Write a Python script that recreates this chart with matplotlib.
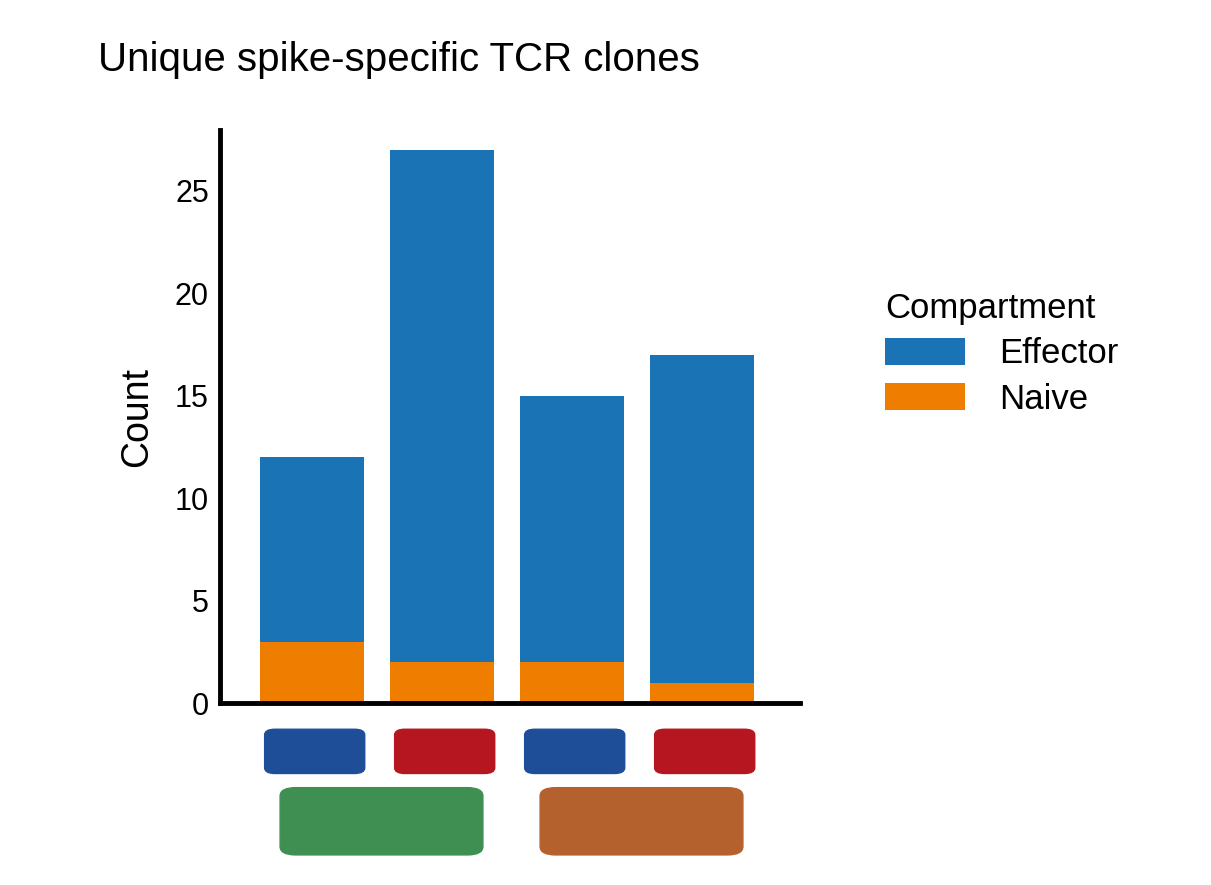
import matplotlib
matplotlib.use("Agg")
import matplotlib.pyplot as plt
from matplotlib.patches import FancyBboxPatch
from matplotlib.transforms import blended_transform_factory

plt.rcParams["font.family"] = "Liberation Sans"

donors = ["D2", "D3", "D2", "D3"]
groups = ["<70", "≥70"]
naive = [3, 2, 2, 1]
effector = [9, 25, 13, 16]
yticks = [0, 5, 10, 15, 20, 25]

blue = "#1a73b4"
orange = "#ee7d00"
donor_colors = {"D2": "#1f4e99", "D3": "#b5161f"}
group_colors = ["#3f8f52", "#b5612e"]

fig = plt.figure(figsize=(12.11, 8.85), dpi=100)
ax = fig.add_axes([0.1817, 0.2056, 0.479, 0.647])
x = list(range(len(donors)))
ax.bar(x, naive, width=0.8, color=orange, label="Naive")
ax.bar(x, effector, width=0.8, bottom=naive, color=blue, label="Effector")
ax.set_xlim(-0.708, 3.754)
ax.set_ylim(0, 27.95)
ax.set_yticks(yticks)
ax.tick_params(axis="y", labelsize=22, length=0, pad=8)
ax.set_xticks([])
for s in ["top", "right"]:
    ax.spines[s].set_visible(False)
for s in ["left", "bottom"]:
    ax.spines[s].set_linewidth(3.5)
ax.set_ylabel("Count", fontsize=27, labelpad=14)
fig.text(98 / 1211, 1 - 60 / 885, "Unique spike-specific TCR clones", fontsize=29, va="center", ha="left")

tr = blended_transform_factory(ax.transData, fig.transFigure)
for i, d in enumerate(donors):
    w = 0.77
    p = FancyBboxPatch((i + 0.02 - w / 2, 0.126), w, 0.05, boxstyle="round,pad=0,rounding_size=0.08",
                       transform=tr, color=donor_colors[d], clip_on=False, mutation_aspect=0.08)
    fig.add_artist(p)
    fig.text(0, 0, "")
    ax.text(i + 0.02, 0.151, d, transform=tr, color="white", fontsize=24, fontweight="bold",
            ha="center", va="center", clip_on=False)
for j, g in enumerate(groups):
    c = 0.534 + 2 * j
    w = 1.56
    p = FancyBboxPatch((c - w / 2, 0.034), w, 0.076, boxstyle="round,pad=0,rounding_size=0.12",
                       transform=tr, color=group_colors[j], clip_on=False, mutation_aspect=0.08)
    fig.add_artist(p)
    ax.text(c, 0.072, g, transform=tr, color="white", fontsize=26, fontweight="bold",
            ha="center", va="center", clip_on=False)

h, l = ax.get_legend_handles_labels()
fig.legend(h[::-1], l[::-1], title="Compartment", loc="upper left",
           bbox_to_anchor=(0.705, 0.705), frameon=False, fontsize=25, title_fontsize=25,
           handlelength=2.3, handleheight=0.8, labelspacing=0.35, handletextpad=1.0,
           alignment="left")
fig.savefig("out.png", dpi=100)
